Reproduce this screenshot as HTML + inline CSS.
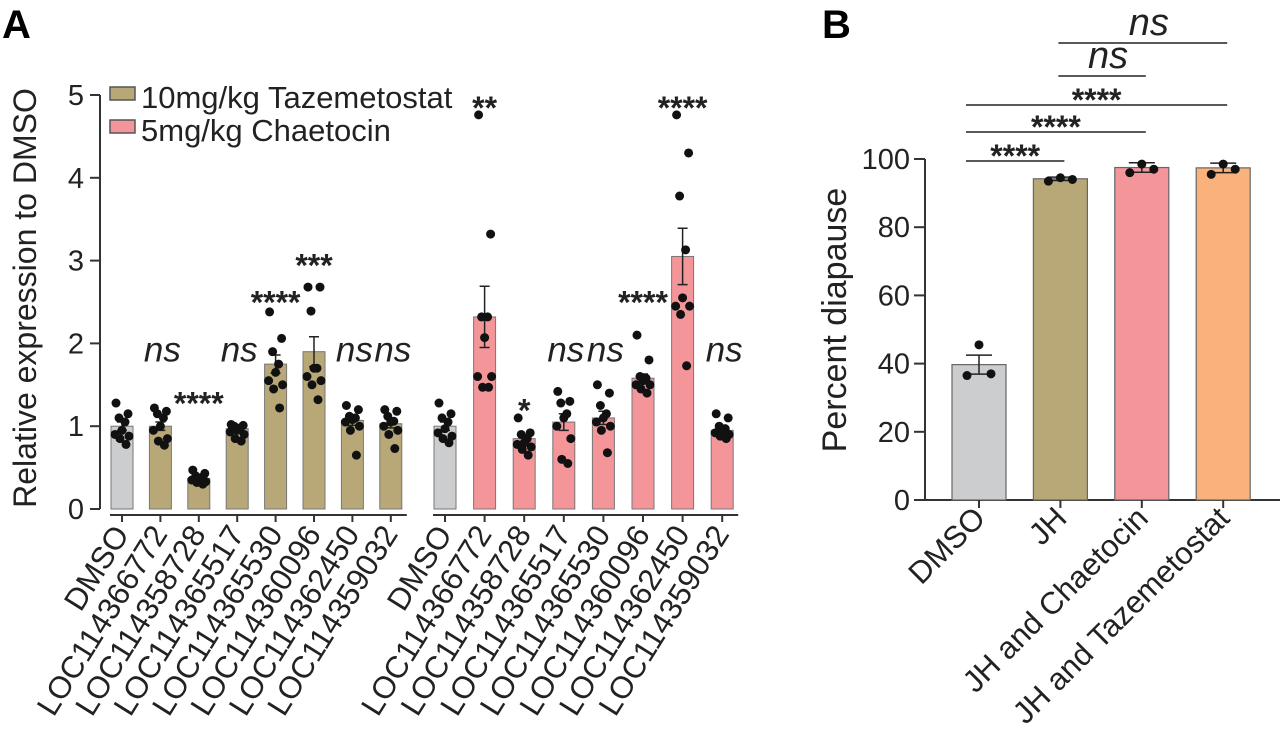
<!DOCTYPE html>
<html><head><meta charset="utf-8"><style>
html,body{margin:0;padding:0;background:#fff;}
svg{display:block;font-family:"Liberation Sans",Arial,sans-serif;}
</style></head><body>
<svg id="chart" width="1280" height="747" viewBox="0 0 1280 747">
<text x="2" y="38" font-size="40" font-weight="bold">A</text>
<text x="822" y="38" font-size="40" font-weight="bold">B</text>
<g id="gA"></g>
<g id="gB"></g>
</svg>
<script>
// ---------- Panel A data ----------
const aCategories = ["DMSO","LOC114366772","LOC114358728","LOC114365517","LOC114365530","LOC114360096","LOC114362450","LOC114359032"];
const aTazMeans = [1.0,1.0,0.37,0.97,1.75,1.9,1.07,1.03];
const aTazSem = [0.05,0.05,0.02,0.02,0.11,0.18,0.06,0.05];
const aTazPoints = [
 [1.28,1.15,1.1,1.05,0.95,0.9,0.88,0.85,0.78],
 [1.22,1.18,1.15,1.1,1.0,0.95,0.85,0.82,0.77],
 [0.47,0.43,0.4,0.38,0.36,0.35,0.33,0.32,0.3],
 [1.02,1.01,1.0,0.98,0.95,0.93,0.9,0.85,0.82],
 [2.38,2.06,1.9,1.75,1.65,1.55,1.5,1.45,1.22],
 [2.68,2.68,2.39,1.7,1.7,1.6,1.55,1.5,1.32],
 [1.25,1.2,1.12,1.1,1.08,1.05,1.0,0.95,0.65],
 [1.2,1.18,1.12,1.06,1.05,1.0,0.95,0.9,0.73]];
const aTazSig = ["","ns","****","ns","****","***","ns","ns"];
const aTazSigY = [0,1.78,1.38,1.78,2.6,3.05,1.78,1.78];
const aChaMeans = [1.0,2.32,0.85,1.05,1.1,1.58,3.05,0.95];
const aChaSem = [0.05,0.37,0.05,0.1,0.08,0.05,0.34,0.04];
const aChaPoints = [
 [1.28,1.15,1.1,1.05,0.97,0.92,0.88,0.85,0.8],
 [4.76,3.32,2.32,2.32,2.07,1.6,1.6,1.47,1.47],
 [1.1,0.92,0.9,0.85,0.8,0.78,0.75,0.72,0.65],
 [1.42,1.3,1.28,1.15,1.1,1.0,0.85,0.6,0.55],
 [1.5,1.4,1.25,1.15,1.1,1.05,1.0,0.95,0.68],
 [2.1,1.8,1.6,1.58,1.55,1.5,1.5,1.45,1.4],
 [4.76,4.3,3.78,3.13,2.55,2.45,2.45,2.35,1.73],
 [1.15,1.1,1.0,0.97,0.95,0.92,0.9,0.88,0.85]];
const aChaSig = ["","**","*","ns","ns","****","****","ns"];
const aChaSigY = [0,4.95,1.3,1.78,1.78,2.6,4.95,1.78];
const aTicks = [0,1,2,3,4,5];
// ---------- Panel B data ----------
const bCategories = ["DMSO","JH","JH and Chaetocin","JH and Tazemetostat"];
const bMeans = [39.7,94.2,97.5,97.4];
const bSem = [2.8,0.5,1.4,1.4];
const bPoints = [[45.5,36.5,37],[94.5,93.5,94],[98.5,96,97],[98.5,95.5,97]];
const bTicks = [0,20,40,60,80,100];
const bComparisons = [[0,1,"****"],[0,2,"****"],[0,3,"****"],[1,2,"ns"],[1,3,"ns"]];

const NS="http://www.w3.org/2000/svg";
function mk(parent,tag,attrs,text){const e=document.createElementNS(NS,tag);for(const k in attrs)e.setAttribute(k,attrs[k]);if(text!==undefined)e.textContent=text;parent.appendChild(e);return e;}
const jit=[-6,6,-3,3,0,-7,7,-2,4];

// ---------- Panel A ----------
(function(){
 const g=document.getElementById('gA');
 const y0=509,yPer=82.8;
 const yA=v=>y0-v*yPer;
 const x1=i=>122+i*38.4, x2=i=>445+i*39.6;
 const bw=22;
 let e=mk(g,'line',{x1:100,y1:yA(0),x2:100,y2:yA(5),stroke:'#333','stroke-width':2});
 
 aTicks.forEach(t=>{
  let l=mk(g,'line',{x1:90,x2:100,y1:yA(t),y2:yA(t),stroke:'#333','stroke-width':2});
  
  let tx=mk(g,'text',{x:84,y:yA(t)+10,'font-size':29,'text-anchor':'end',fill:'#222'},t);
  
 });
 let yt=mk(g,'text',{transform:'translate(36,298) rotate(-90)','font-size':32,'text-anchor':'middle',fill:'#222'},'Relative expression to DMSO');
 
 [[x1,aTazMeans,aTazSem,aTazPoints,aTazSig,aTazSigY,'#b8a878'],[x2,aChaMeans,aChaSem,aChaPoints,aChaSig,aChaSigY,'#f4959a']].forEach((grp,gi)=>{
  const [xf,means,sem,pts,sig,sigY,col]=grp;
  let ax=mk(g,'line',{x1:xf(0)-12,x2:xf(7)+16,y1:515,y2:515,stroke:'#333','stroke-width':2});
  
  aCategories.forEach((c,i)=>{
   const x=xf(i);const fill=i===0?'#cbcdce':col;
   let r=mk(g,'rect',{x:x-bw/2,y:yA(means[i]),width:bw,height:yA(0)-yA(means[i]),fill:fill,stroke:'#777','stroke-width':1});
   
   let eb=mk(g,'path',{d:`M${x},${yA(means[i]-sem[i])}V${yA(means[i]+sem[i])}M${x-5},${yA(means[i]+sem[i])}H${x+5}M${x-5},${yA(means[i]-sem[i])}H${x+5}`,stroke:'#222','stroke-width':1.5,fill:'none'});
   
   pts[i].forEach((v,k)=>{let d=mk(g,'circle',{cx:x+jit[k],cy:yA(v),r:4.5,fill:'#111'});
    });
   let tk=mk(g,'line',{x1:x,x2:x,y1:515,y2:522,stroke:'#333','stroke-width':2});
   
   let lb=mk(g,'text',{transform:`translate(${x+8},534) rotate(-58)`,'font-size':31,'text-anchor':'end',fill:'#222'},c);
   
   if(sig[i]){
    const isNs=sig[i]==='ns';
    let s=mk(g,'text',{x:x+(isNs?2:0),y:yA(sigY[i])+(isNs?0:20),'font-size':isNs?35:32,'font-weight':isNs?'normal':'bold','font-style':isNs?'italic':'normal','text-anchor':'middle',fill:'#222'},sig[i]);
    
   }
  });
 });
 const lg=[['10mg/kg Tazemetostat','#b8a878',96],['5mg/kg Chaetocin','#f4959a',129]];
 lg.forEach(L=>{
  let r=mk(g,'rect',{x:110,y:L[2]-9,width:25,height:13,fill:L[1],stroke:'#555','stroke-width':1.5});
  
  let t=mk(g,'text',{x:141,y:L[2]+12,'font-size':31,fill:'#222'},L[0]);
  
 });
})();

// ---------- Panel B ----------
(function(){
 const g=document.getElementById('gB');
 const y0=500,yPer=3.41;
 const yB=v=>y0-v*yPer;
 const xB=i=>979+i*81.4;
 const bw=54;
 const cols=['#cbcdce','#b8a878','#f4959a','#f9b27c'];
 let ya=mk(g,'line',{x1:925,x2:925,y1:yB(0),y2:yB(100),stroke:'#333','stroke-width':2});
 
 let xa=mk(g,'line',{x1:915,x2:1280,y1:yB(0),y2:yB(0),stroke:'#333','stroke-width':2});
 
 bTicks.forEach(t=>{
  let l=mk(g,'line',{x1:914,x2:925,y1:yB(t),y2:yB(t),stroke:'#333','stroke-width':2});
  
  let tx=mk(g,'text',{x:910,y:yB(t)+10,'font-size':29,'text-anchor':'end',fill:'#222'},t);
  
 });
 let yt=mk(g,'text',{transform:'translate(846,320) rotate(-90)','font-size':34,'text-anchor':'middle',fill:'#222'},'Percent diapause');
 
 bCategories.forEach((c,i)=>{
  const x=xB(i);
  let r=mk(g,'rect',{x:x-bw/2,y:yB(bMeans[i]),width:bw,height:yB(0)-yB(bMeans[i]),fill:cols[i],stroke:'#666','stroke-width':1.2});
  
  let eb=mk(g,'path',{d:`M${x},${yB(bMeans[i]-bSem[i])}V${yB(bMeans[i]+bSem[i])}M${x-13},${yB(bMeans[i]+bSem[i])}H${x+13}M${x-13},${yB(bMeans[i]-bSem[i])}H${x+13}`,stroke:'#222','stroke-width':1.5,fill:'none'});
  
  const jb=[0,-12,12];
  bPoints[i].forEach((v,k)=>{let d=mk(g,'circle',{cx:x+jb[k],cy:yB(v),r:4.5,fill:'#111'});
   });
  let tk=mk(g,'line',{x1:x,x2:x,y1:500,y2:508,stroke:'#333','stroke-width':2});
  
  let lb=mk(g,'text',{transform:`translate(${x+8},520) rotate(-45)`,'font-size':31,'text-anchor':'end',fill:'#222'},c);
  
 });
 const lineY=[161,132,105,76,43];
 bComparisons.forEach((cmp,k)=>{
  const xa1=cmp[0]===0?xB(0)-13:xB(cmp[0])-2, xa2=xB(cmp[1])+4;
  let l=mk(g,'line',{x1:xa1,x2:xa2,y1:lineY[k],y2:lineY[k],stroke:'#222','stroke-width':1.5});
  
  const isNs=cmp[2]==='ns';
  let t=mk(g,'text',{x:(xa1+xa2)/2+(isNs?6:0),y:lineY[k]-(isNs?8:-6),'font-size':isNs?38:32,'font-weight':isNs?'normal':'bold','font-style':isNs?'italic':'normal','text-anchor':'middle',fill:'#222'},cmp[2]);
  
 });
})();
</script>
</body></html>
